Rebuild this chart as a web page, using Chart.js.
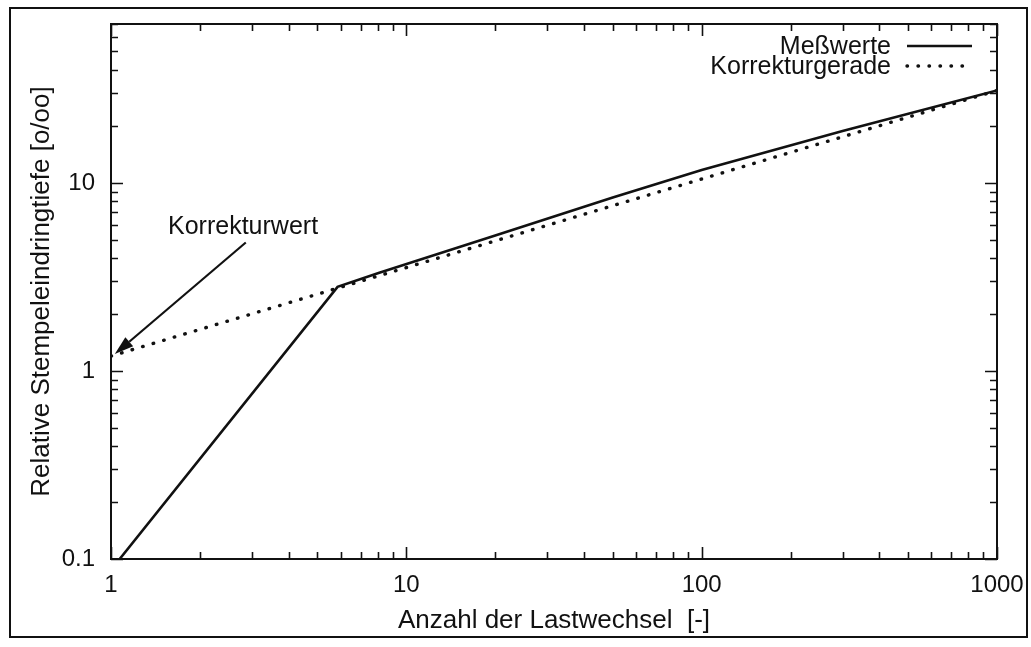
<!DOCTYPE html>
<html>
<head>
<meta charset="utf-8">
<script src="https://cdn.jsdelivr.net/npm/chart.js@4/dist/chart.umd.min.js"></script>
<style>
  html, body { margin: 0; padding: 0; background: #fff; }
  #wrap { width: 1031px; height: 647px; position: relative; }
</style>
</head>
<body>
<div id="wrap"><canvas id="c"></canvas></div>
<script>
// Measured penetration depth vs. number of load cycles (log-log)
const lastwechsel = [1.07, 5.85, 8.1, 20, 50, 100, 300, 1000];
const messwerte   = [0.1, 2.8, 3.33, 5.25, 8.36, 11.7, 18.9, 31];

// Correction line, extrapolated back to the first load cycle
const geradeX = [1, 1000];
const geradeY = [1.2, 31];

// Axis ticks
const xTickValues = [1, 10, 100, 1000];
const yTickValues = [0.1, 1, 10];
const xRange = [1, 1000];
const yRange = [0.1, 70];

const seriesNames = ['Meßwerte', 'Korrekturgerade'];
const xTitle = 'Anzahl der Lastwechsel  [-]';
const yTitle = 'Relative Stempeleindringtiefe [o/oo]';

// Callout pointing at the correction value (data coordinates)
const calloutText = 'Korrekturwert';
const calloutTextAt = [2.8, 5.8];
const calloutFrom = [2.86, 4.82];
const calloutTo = [1.03, 1.23];

const INK = '#111';
const FONT = '"Liberation Sans", Arial, Helvetica, sans-serif';

const toPoints = (xs, ys) => xs.map((x, i) => ({ x, y: ys[i] }));

// Inward tick marks on all four sides plus the plot frame
const tickMarks = {
  id: 'tickMarks',
  afterDatasetsDraw(chart) {
    const { ctx, chartArea: a, scales: { x, y } } = chart;
    ctx.save();
    ctx.strokeStyle = INK;
    ctx.lineWidth = 1.6;
    const major = 12, minor = 7;
    const marks = (majors, max) => {
      const out = [];
      majors.forEach((m) => {
        for (let k = 1; k <= 9; k++) {
          const v = m * k;
          if (v <= max * 1.0001) out.push({ v, len: k === 1 ? major : minor });
        }
      });
      return out;
    };
    ctx.beginPath();
    marks(xTickValues, xRange[1]).forEach(({ v, len }) => {
      const px = Math.round(x.getPixelForValue(v)) + 0.5;
      ctx.moveTo(px, a.bottom); ctx.lineTo(px, a.bottom - len);
      ctx.moveTo(px, a.top); ctx.lineTo(px, a.top + len);
    });
    marks(yTickValues, yRange[1]).forEach(({ v, len }) => {
      const py = Math.round(y.getPixelForValue(v)) + 0.5;
      ctx.moveTo(a.left, py); ctx.lineTo(a.left + len, py);
      ctx.moveTo(a.right, py); ctx.lineTo(a.right - len, py);
    });
    ctx.stroke();
    ctx.lineWidth = 2;
    ctx.strokeRect(a.left, a.top, a.right - a.left, a.bottom - a.top);
    // outer border of the figure
    ctx.lineWidth = 2;
    ctx.strokeRect(10, 8, 1017, 629);
    ctx.restore();
  }
};

// Legend in the upper right corner: label right-aligned, sample line to its right
const cornerLegend = {
  id: 'cornerLegend',
  afterDatasetsDraw(chart) {
    const { ctx, chartArea: a } = chart;
    ctx.save();
    ctx.font = '25px ' + FONT;
    ctx.fillStyle = INK;
    ctx.textAlign = 'right';
    ctx.textBaseline = 'middle';
    chart.data.datasets.forEach((ds, i) => {
      const yy = a.top + 22 + i * 20;
      ctx.fillText(ds.label, a.right - 106, yy + 1);
      ctx.beginPath();
      ctx.strokeStyle = ds.borderColor;
      ctx.lineWidth = ds.borderWidth;
      ctx.lineCap = ds.borderCapStyle || 'butt';
      ctx.setLineDash(ds.borderDash || []);
      ctx.moveTo(a.right - 90, yy);
      ctx.lineTo(a.right - 25, yy);
      ctx.stroke();
    });
    ctx.restore();
  }
};

// Callout text with an arrow to the correction value
const callout = {
  id: 'callout',
  afterDatasetsDraw(chart) {
    const { ctx, scales: { x, y } } = chart;
    const tx = x.getPixelForValue(calloutTextAt[0]);
    const ty = y.getPixelForValue(calloutTextAt[1]);
    const x0 = x.getPixelForValue(calloutFrom[0]), y0 = y.getPixelForValue(calloutFrom[1]);
    const x1 = x.getPixelForValue(calloutTo[0]), y1 = y.getPixelForValue(calloutTo[1]);
    ctx.save();
    ctx.font = '25px ' + FONT;
    ctx.fillStyle = INK;
    ctx.textAlign = 'center';
    ctx.textBaseline = 'middle';
    ctx.fillText(calloutText, tx, ty);
    const ang = Math.atan2(y1 - y0, x1 - x0);
    const hl = 19, hw = 6;
    const bx = x1 - hl * Math.cos(ang), by = y1 - hl * Math.sin(ang);
    ctx.strokeStyle = INK;
    ctx.lineWidth = 2.2;
    ctx.beginPath();
    ctx.moveTo(x0, y0);
    ctx.lineTo(bx, by);
    ctx.stroke();
    ctx.beginPath();
    ctx.moveTo(x1, y1);
    ctx.lineTo(bx + hw * Math.sin(ang), by - hw * Math.cos(ang));
    ctx.lineTo(bx - hw * Math.sin(ang), by + hw * Math.cos(ang));
    ctx.closePath();
    ctx.fill();
    ctx.restore();
  }
};

new Chart(document.getElementById('c'), {
  type: 'scatter',
  data: {
    datasets: [
      {
        label: seriesNames[0],
        data: toPoints(lastwechsel, messwerte),
        showLine: true,
        borderColor: INK,
        borderWidth: 2.6,
        pointRadius: 0,
        tension: 0
      },
      {
        label: seriesNames[1],
        data: toPoints(geradeX, geradeY),
        showLine: true,
        borderColor: INK,
        borderWidth: 3.4,
        borderDash: [0.5, 10.5],
        borderCapStyle: 'round',
        pointRadius: 0,
        tension: 0
      }
    ]
  },
  options: {
    responsive: true,
    maintainAspectRatio: false,
    animation: false,
    layout: { padding: { left: 0, right: 34, top: 24, bottom: 0 } },
    plugins: { legend: { display: false }, tooltip: { enabled: false } },
    scales: {
      x: {
        type: 'logarithmic',
        min: xRange[0],
        max: xRange[1],
        afterBuildTicks: (s) => { s.ticks = xTickValues.map((v) => ({ value: v })); },
        afterFit: (s) => {
          s.height = 88;
          s.paddingLeft = 0; s.paddingRight = 0;
        },
        grid: { display: false, drawTicks: false },
        border: { display: false },
        ticks: {
          color: INK,
          padding: 12,
          maxRotation: 0,
          font: { family: FONT, size: 24 },
          callback: (v) => String(v)
        },
        title: {
          display: true,
          text: xTitle,
          color: INK,
          font: { family: FONT, size: 26 },
          padding: { top: 0, bottom: 11 }
        }
      },
      y: {
        type: 'logarithmic',
        min: yRange[0],
        max: yRange[1],
        afterBuildTicks: (s) => { s.ticks = yTickValues.map((v) => ({ value: v })); },
        afterFit: (s) => {
          s.width = 111;
          s.paddingTop = 0; s.paddingBottom = 0;
        },
        grid: { display: false, drawTicks: false },
        border: { display: false },
        ticks: {
          color: INK,
          padding: 16,
          font: { family: FONT, size: 24 },
          callback: (v) => String(v)
        },
        title: {
          display: true,
          text: yTitle,
          color: INK,
          font: { family: FONT, size: 26 },
          padding: { top: 26, bottom: 0 }
        }
      }
    }
  },
  plugins: [tickMarks, cornerLegend, callout]
});
</script>
</body>
</html>
